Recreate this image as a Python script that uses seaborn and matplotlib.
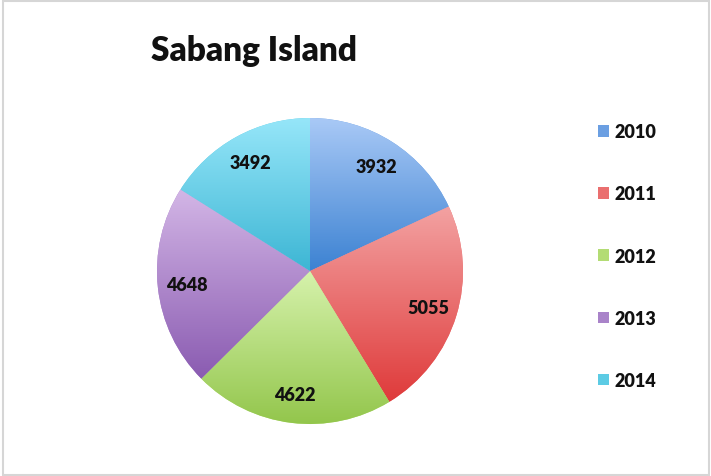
import numpy as np
import seaborn as sns
import matplotlib.pyplot as plt
from matplotlib.colors import LinearSegmentedColormap
from matplotlib.patches import Rectangle, Patch

years = ["2010", "2011", "2012", "2013", "2014"]
visitors = [3932, 5055, 4622, 4648, 3492]

# mid / top / bottom shades per slice (vertical gradient like the original)
mid_colors = ["#6b9fe2", "#ea6f6f", "#b3dc74", "#a983c9", "#5ccbe4"]
top_colors = ["#a9c9f6", "#f3a2a2", "#d6f2ac", "#d3b6e6", "#96e6f9"]
bot_colors = ["#3c82d2", "#df3a3a", "#93c64c", "#8a5bb1", "#3db6d4"]

sns.set_style("white")
plt.rcParams["font.family"] = ["Lato", "DejaVu Sans"]

fig = plt.figure(figsize=(7.11, 4.77), dpi=100)
W, H = 711, 477
cx, cy, r = 310, 272, 153
ax = fig.add_axes([(cx - r) / W, (H - cy - r) / H, 2 * r / W, 2 * r / H])

total = sum(visitors)
wedges, texts, autotexts = ax.pie(
    visitors, colors=sns.color_palette(mid_colors), startangle=90,
    counterclock=False, radius=1,
    autopct=lambda p: f"{p * total / 100:.0f}", pctdistance=0.81,
    wedgeprops=dict(linewidth=0),
    textprops=dict(fontsize=13, fontweight="heavy", color="#111111"))

for w, top, bot in zip(wedges, top_colors, bot_colors):
    t = np.radians(np.linspace(w.theta1, w.theta2, 100))
    xs = np.concatenate([[0], np.cos(t)])
    ys = np.concatenate([[0], np.sin(t)])
    cmap = LinearSegmentedColormap.from_list("g", [bot, top])
    grad = np.linspace(0, 1, 256).reshape(-1, 1)
    ax.imshow(grad, extent=[xs.min(), xs.max(), ys.min(), ys.max()],
              origin="lower", cmap=cmap, aspect="auto",
              clip_path=w, zorder=2)

for t in autotexts:
    t.set_zorder(5)

ax.set_xlim(-1, 1)
ax.set_ylim(-1, 1)
ax.set_axis_off()

fig.text(151 / W, 1 - 51 / H, "Sabang Island", fontsize=24,
         fontweight="heavy", color="#111111", va="center", ha="left")

handles = [Patch(facecolor=c, edgecolor="none") for c in mid_colors]
fig.legend(handles, years, loc="upper left", bbox_to_anchor=(582 / W, 1 - 108 / H),
           frameon=False, handlelength=0.6, handleheight=0.6,
           handletextpad=0.3, labelspacing=2.5,
           prop=dict(size=13, weight="heavy"), labelcolor="#111111")

fig.patches.append(Rectangle((3 / W, 1 / H), 706 / W, 474 / H,
                             transform=fig.transFigure, fill=False,
                             edgecolor="#d6d6d6", linewidth=1.5))

fig.savefig("out.png", dpi=100)
